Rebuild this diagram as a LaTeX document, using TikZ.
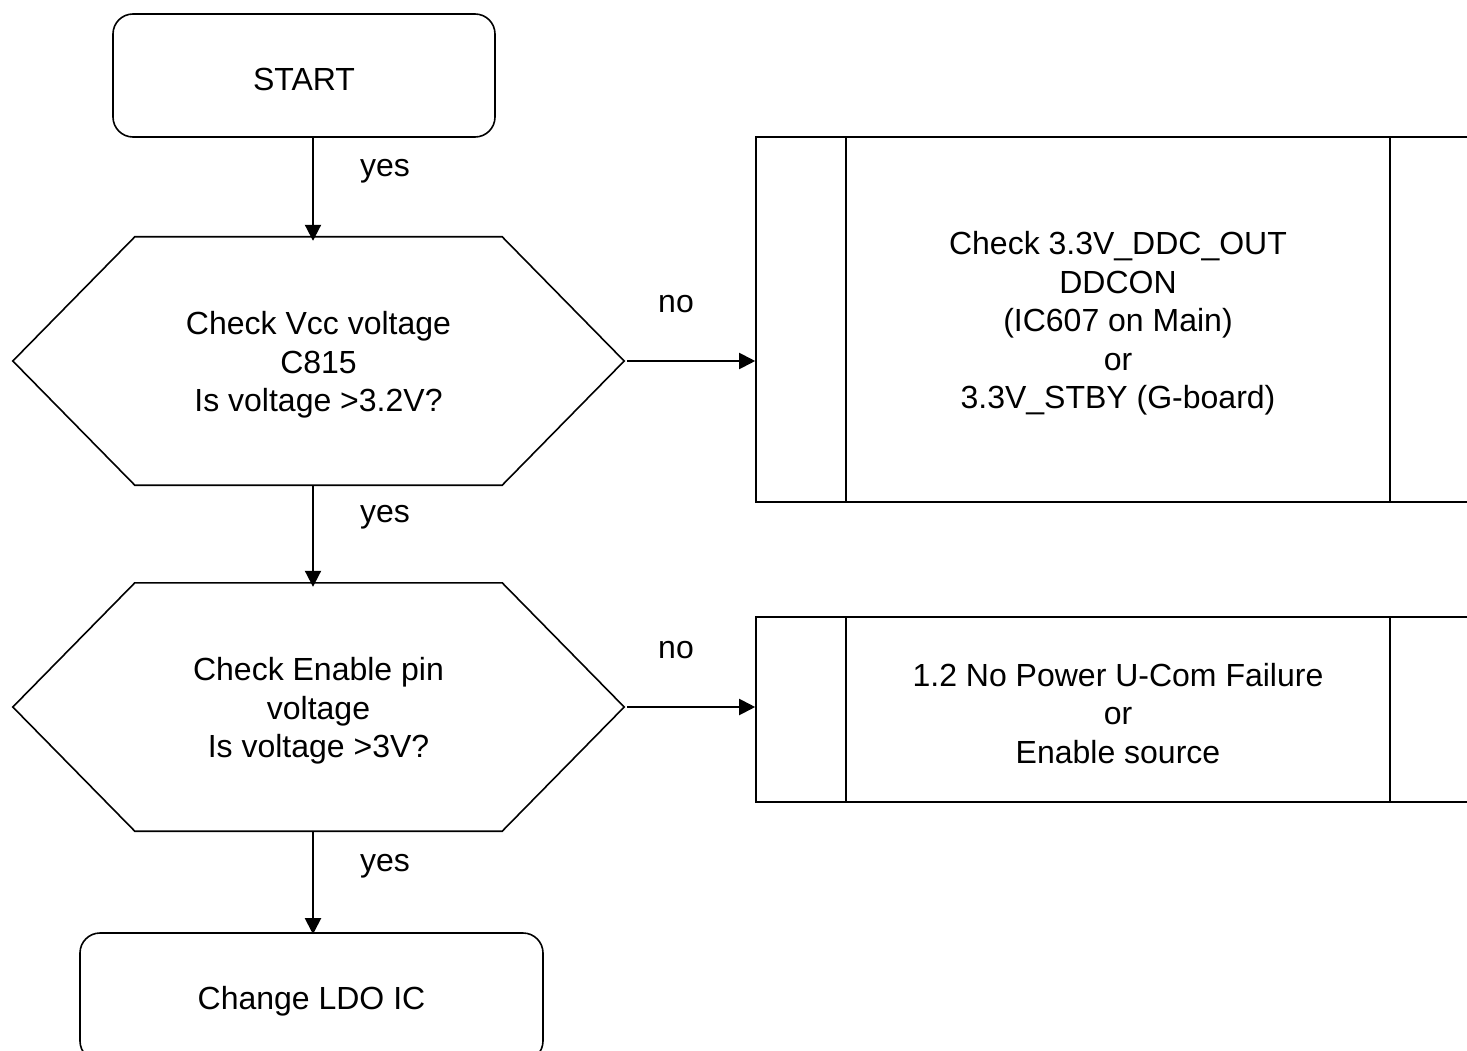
\documentclass[tikz,border=0pt]{standalone}
\usepackage{fontspec}
\setmainfont{Liberation Sans}
\usetikzlibrary{calc,arrows.meta}
\begin{document}
\begin{tikzpicture}[x=1pt,y=-1pt,
  every node/.style={font=\fontsize{32}{38.5}\selectfont, align=center, inner sep=0pt},
  term/.style={draw, line width=1.6pt, rounded corners=20pt},
  hexa/.style={draw=none, minimum width=611pt, minimum height=248pt},
  proc/.style={draw, line width=1.6pt, minimum width=724pt},
  txt/.style={yshift=-4pt},
  arr/.style={line width=2pt, -{Triangle[length=16pt,width=16pt]}},
  lbl/.style={yshift=-4pt}]
\useasboundingbox (0,0) rectangle (1467,1051);
\clip (0,0) rectangle (1467,1051);

\node[term, minimum width=382pt, minimum height=123pt] (start) at (304,75.5) {};
\node[txt] (startt) at (start) {START};

\node[hexa] (c1) at (318.5,361) {};
\node[txt] (c1t) at (c1) {Check Vcc voltage\\C815\\Is voltage >3.2V?};
\draw[line width=1.6pt] (c1.west) -- ($(c1.north west)+(122,0)$) -- ($(c1.north east)+(-122,0)$) -- (c1.east) -- ($(c1.south east)+(-122,0)$) -- ($(c1.south west)+(122,0)$) -- cycle;

\node[hexa] (c2) at (318.5,707) {};
\node[txt] (c2t) at (c2) {Check Enable pin\\voltage\\Is voltage >3V?};
\draw[line width=1.6pt] (c2.west) -- ($(c2.north west)+(122,0)$) -- ($(c2.north east)+(-122,0)$) -- (c2.east) -- ($(c2.south east)+(-122,0)$) -- ($(c2.south west)+(122,0)$) -- cycle;

\node[proc, minimum height=365pt] (p1) at (1118,319.5) {};
\node[txt] (p1t) at (p1) {Check 3.3V\_DDC\_OUT\\DDCON\\(IC607 on Main)\\or\\3.3V\_STBY (G-board)};
\draw[line width=1.6pt] ($(p1.north west)+(91,0)$) -- ($(p1.south west)+(91,0)$);
\draw[line width=1.6pt] ($(p1.north east)+(-91,0)$) -- ($(p1.south east)+(-91,0)$);

\node[proc, minimum height=185pt] (p2) at (1118,709.5) {};
\node[txt] (p2t) at (p2) {1.2 No Power U-Com Failure\\or\\Enable source};
\draw[line width=1.6pt] ($(p2.north west)+(91,0)$) -- ($(p2.south west)+(91,0)$);
\draw[line width=1.6pt] ($(p2.north east)+(-91,0)$) -- ($(p2.south east)+(-91,0)$);

\node[term, minimum width=463pt, minimum height=128pt] (ldo) at (311.5,997) {};
\node[txt] (ldot) at (ldo) {Change LDO IC};

\coordinate (s1) at ($(start.south)+(9,0)$);
\coordinate (t1) at ($(c1.north)+(-5.5,4)$);
\draw[arr] (s1) -- (t1);
\coordinate (s2) at ($(c1.south)+(-5.5,0)$);
\coordinate (t2) at ($(c2.north)+(-5.5,4)$);
\draw[arr] (s2) -- (t2);
\coordinate (s3) at ($(c2.south)+(-5.5,0)$);
\coordinate (t3) at ($(ldo.north)+(1.5,2)$);
\draw[arr] (s3) -- (t3);

\draw[arr] ($(c1.east)+(3,0)$) -- (p1.west |- c1.east);
\draw[arr] ($(c2.east)+(3,0)$) -- (p2.west |- c2.east);

\node[lbl] (y1) at (385,167) {yes};
\node[lbl] (y2) at (385,513) {yes};
\node[lbl] (y3) at (385,862) {yes};
\node[lbl] (n1) at (676,300) {no};
\node[lbl] (n2) at (676,646) {no};
\end{tikzpicture}
\end{document}
